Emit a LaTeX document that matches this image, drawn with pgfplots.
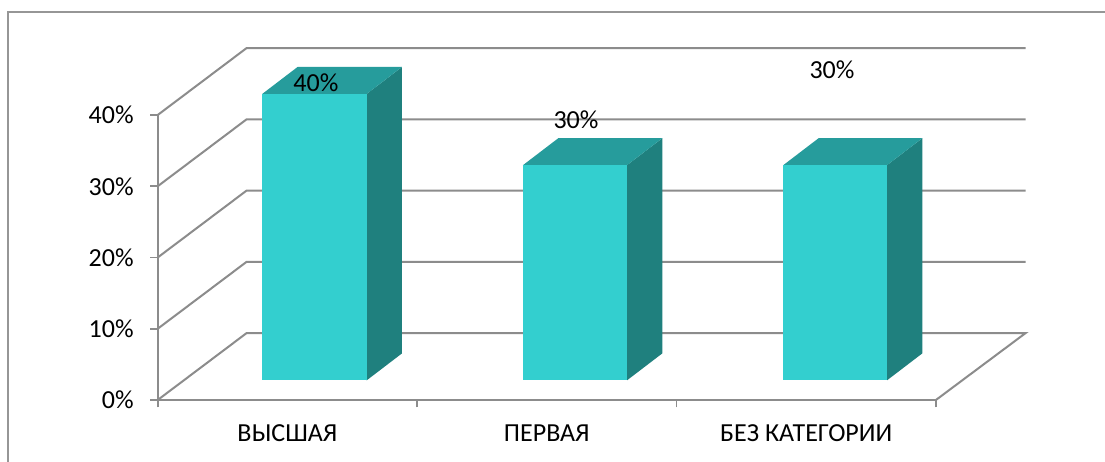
\documentclass[border=0pt]{standalone}
\usepackage{pgfplots}
\pgfplotsset{compat=1.18}
\usepackage{fontspec}
\setmainfont{Carlito}
\definecolor{frontc}{RGB}{51,207,207}
\definecolor{topc}{RGB}{38,156,156}
\definecolor{sidec}{RGB}{31,128,126}
\definecolor{gridc}{RGB}{140,140,140}
\definecolor{framec}{RGB}{150,150,150}
\begin{document}
\begin{tikzpicture}[x=1pt,y=1pt]
\clip (0,0) rectangle (1105,462);
\fill[white] (0,0) rectangle (1105,462);
\draw[framec,line width=1.8pt] (8,-5) -- (8,450) -- (1110,450);
\begin{axis}[
  at={(157.7pt,62pt)},anchor=origin,
  scale only axis,width=778.2pt,height=285pt,
  xmin=0,xmax=3,ymin=0,ymax=40,clip=false,
  axis x line*=bottom,axis y line*=left,
  axis line style={gridc,line width=2pt,-},
  tick align=outside,tick style={gridc,line width=1.6pt},
  major tick length=7.5pt,
  xtick={0,1,2,3},xticklabels={},
  extra x ticks={0.5,1.5,2.5},
  extra x tick labels={ВЫСШАЯ,ПЕРВАЯ,БЕЗ КАТЕГОРИИ},
  extra x tick style={major tick length=0pt,tick style={draw=none}},
  ytick={0,10,20,30,40},
  yticklabel={\pgfmathprintnumber[assume math mode=true]{\tick}\%},
  every tick label/.append style={font=\fontsize{26}{30}\selectfont,text=black},
  xticklabel style={yshift=-21pt},
  yticklabel style={xshift=-13pt},
]
% walls and floor
\addplot[gridc,line width=2pt] coordinates {(0,0) (0.343,9.4) (3.346,9.4) (3,0)};
\addplot[gridc,line width=2pt] coordinates {(0,10) (0.343,19.4) (3.346,19.4)};
\addplot[gridc,line width=2pt] coordinates {(0,20) (0.343,29.4) (3.346,29.4)};
\addplot[gridc,line width=2pt] coordinates {(0,30) (0.343,39.4) (3.346,39.4)};
\addplot[gridc,line width=2pt] coordinates {(0,40) (0.343,49.4) (3.346,49.4)};
% bar 1 (40)
\addplot[fill=sidec,draw=none] coordinates {(0.8057,2.76) (0.8057,42.96) (0.9417,46.74) (0.9417,6.54)} --cycle;
\addplot[fill=topc,draw=none] coordinates {(0.4032,42.96) (0.8057,42.96) (0.9417,46.74) (0.5392,46.74)} --cycle;
\addplot[fill=frontc,draw=none] coordinates {(0.4032,2.76) (0.8057,2.76) (0.8057,42.96) (0.4032,42.96)} --cycle;
% bar 2 (30)
\addplot[fill=sidec,draw=none] coordinates {(1.8092,2.76) (1.8092,32.96) (1.9452,36.74) (1.9452,6.54)} --cycle;
\addplot[fill=topc,draw=none] coordinates {(1.4082,32.96) (1.8092,32.96) (1.9452,36.74) (1.5442,36.74)} --cycle;
\addplot[fill=frontc,draw=none] coordinates {(1.4082,2.76) (1.8092,2.76) (1.8092,32.96) (1.4082,32.96)} --cycle;
% bar 3 (30)
\addplot[fill=sidec,draw=none] coordinates {(2.8115,2.76) (2.8115,32.96) (2.9475,36.74) (2.9475,6.54)} --cycle;
\addplot[fill=topc,draw=none] coordinates {(2.4117,32.96) (2.8115,32.96) (2.9475,36.74) (2.5477,36.74)} --cycle;
\addplot[fill=frontc,draw=none] coordinates {(2.4117,2.76) (2.8115,2.76) (2.8115,32.96) (2.4117,32.96)} --cycle;
% data labels
\node[font=\fontsize{26}{30}\selectfont,text=black] at (axis cs:0.610,44.5) {40\%};
\node[font=\fontsize{26}{30}\selectfont,text=black] at (axis cs:1.6126,39.3) {30\%};
\node[font=\fontsize{26}{30}\selectfont,text=black] at (axis cs:2.5995,46.3) {30\%};
\end{axis}
\end{tikzpicture}
\end{document}
